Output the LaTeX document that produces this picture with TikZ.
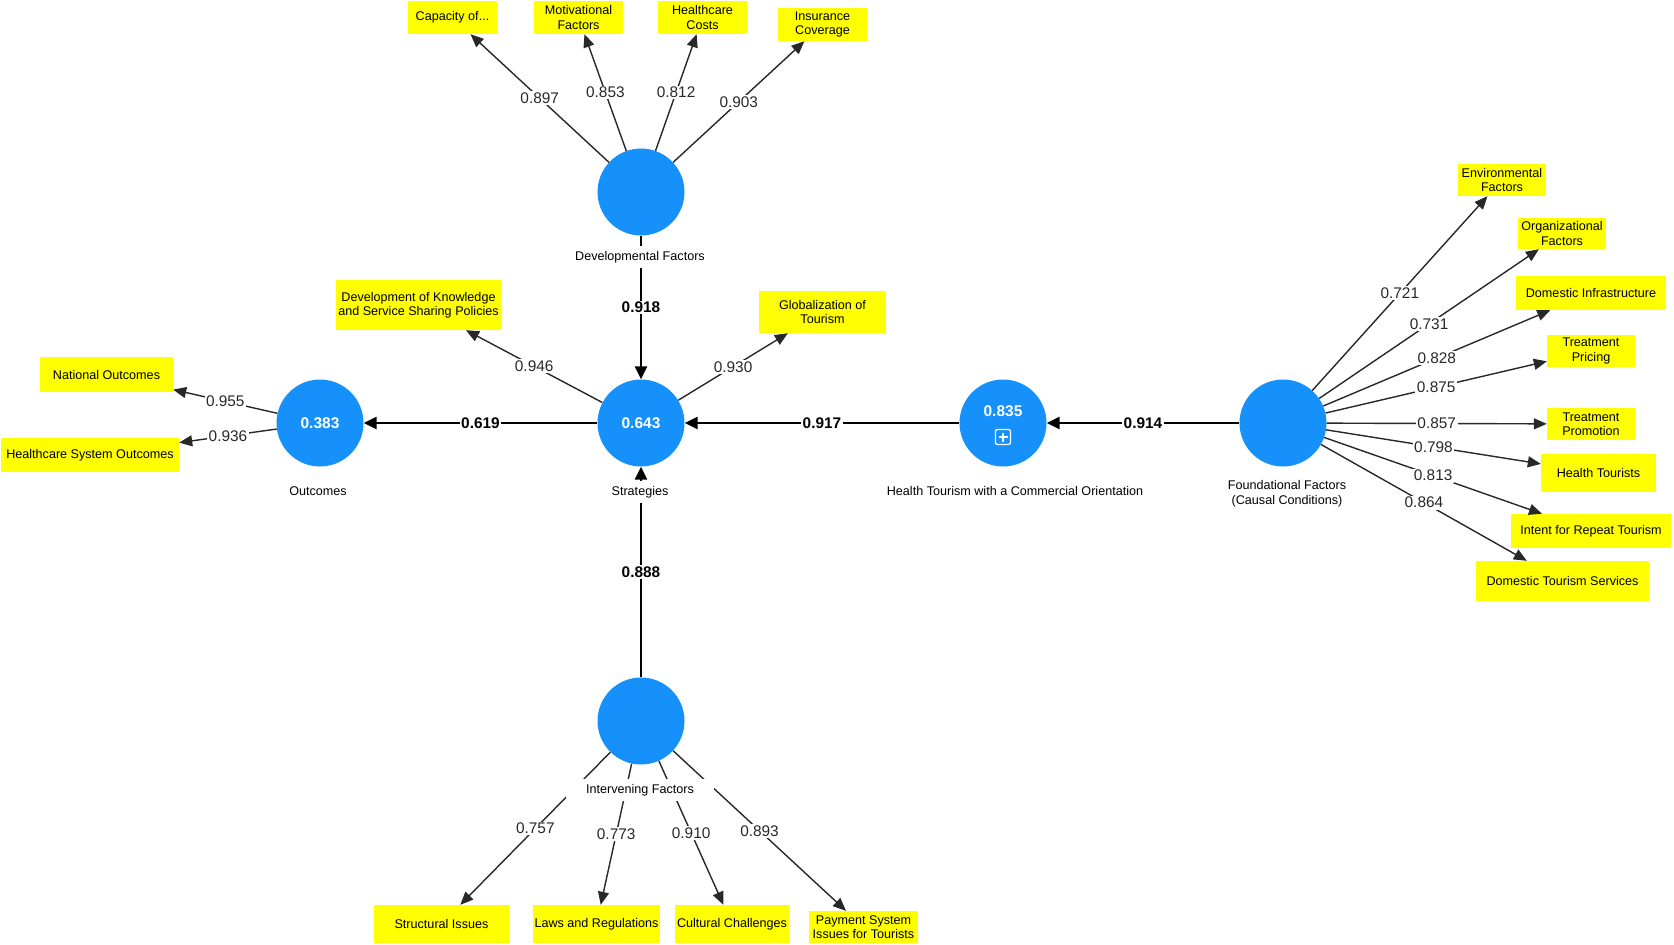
\documentclass[tikz,border=0pt]{standalone}
\usepackage{fontspec}
\setmainfont{Liberation Sans}
\usetikzlibrary{arrows.meta}

\definecolor{plsblue}{RGB}{22,144,250}
\definecolor{plsyellow}{RGB}{255,255,0}
\definecolor{edgegray}{RGB}{40,40,40}

\tikzstyle{construct}=[circle,fill=plsblue,minimum size=87pt,inner sep=0pt,text=white,font=\fontsize{15.5}{18}\selectfont\bfseries]
\tikzstyle{indicator}=[fill=plsyellow,inner sep=1pt,align=center,font=\fontsize{12.6}{14.5}\selectfont]
\tikzstyle{latent label}=[fill=white,inner xsep=20pt,inner ysep=5pt,align=center,font=\fontsize{12.6}{15}\selectfont]
\tikzstyle{loading edge}=[draw,line width=1.4pt,edgegray,-{Triangle[length=13pt,width=11pt]}]
\tikzstyle{path edge}=[draw,line width=2.6pt,black,-{Triangle[length=13pt,width=12pt]}]
\tikzstyle{loading}=[fill=white,inner sep=1.5pt,text=edgegray,font=\fontsize{15.4}{17}\selectfont]
\tikzstyle{coefficient}=[fill=white,inner sep=1.5pt,text=black,font=\fontsize{15.4}{17}\selectfont\bfseries]

\begin{document}
\begin{tikzpicture}[x=1pt,y=-1pt]
	\useasboundingbox (0,0) rectangle (1674,945);
			% latent variables
			\node[construct] (dev) at (641,192) {};
			\node[construct] (strat) at (641,423) {0.643};
			\node[construct] (outc) at (320,423) {0.383};
			\node[construct] (htco) at (1003,423) {};
			\node[construct] (found) at (1283,423) {};
			\node[construct] (interv) at (641,721) {};
			\node[text=white,font=\fontsize{15.5}{18}\selectfont\bfseries] (htcoval) at (1003,411) {0.835};
			\node[draw=white,line width=1.3pt,rounded corners=2pt,minimum size=15pt,inner sep=0pt] (htcoicon) at (1003,437) {};
			\draw[white,line width=1.3pt] (htcoicon.center) +(-4.5,0) -- +(4.5,0) +(0,-4.5) -- +(0,4.5);
			% indicators
			\node[indicator,minimum width=89pt,minimum height=33pt] (cap) at (452.5,17.5) {Capacity of...};
			\node[indicator,minimum width=89pt,minimum height=33pt] (mot) at (578.5,17.5) {Motivational\\Factors};
			\node[indicator,minimum width=89pt,minimum height=33pt] (hcc) at (702.5,17.5) {Healthcare\\Costs};
			\node[indicator,minimum width=89pt,minimum height=33pt] (ins) at (822.5,24.5) {Insurance\\Coverage};
			\node[indicator,minimum width=165pt,minimum height=50pt] (dks) at (418.5,305) {Development of Knowledge\\and Service Sharing Policies};
			\node[indicator,minimum width=127pt,minimum height=42pt] (glo) at (822.5,312) {Globalization of\\Tourism};
			\node[indicator,minimum width=133pt,minimum height=35pt] (nat) at (106.5,374.5) {National Outcomes};
			\node[indicator,minimum width=178pt,minimum height=34pt] (hso) at (90,455) {Healthcare System Outcomes};
			\node[indicator,minimum width=88pt,minimum height=32pt] (env) at (1502,180) {Environmental\\Factors};
			\node[indicator,minimum width=88pt,minimum height=31pt] (org) at (1562,233.5) {Organizational\\Factors};
			\node[indicator,minimum width=150pt,minimum height=34pt] (din) at (1591,293) {Domestic Infrastructure};
			\node[indicator,minimum width=88pt,minimum height=32pt] (tpr) at (1591,351) {Treatment\\Pricing};
			\node[indicator,minimum width=88pt,minimum height=32pt] (tpm) at (1591,424) {Treatment\\Promotion};
			\node[indicator,minimum width=115pt,minimum height=38pt] (hto) at (1598.5,473) {Health Tourists};
			\node[indicator,minimum width=160pt,minimum height=34pt] (irt) at (1591,531) {Intent for Repeat Tourism};
			\node[indicator,minimum width=173pt,minimum height=40pt] (dts) at (1562.5,581) {Domestic Tourism Services};
			\node[indicator,minimum width=135pt,minimum height=38pt] (sti) at (441.5,924) {Structural Issues};
			\node[indicator,minimum width=127pt,minimum height=38pt] (law) at (596.5,924) {Laws and Regulations};
			\node[indicator,minimum width=114pt,minimum height=38pt] (cul) at (732,924) {Cultural Challenges};
			\node[indicator,minimum width=109pt,minimum height=32pt] (pay) at (863.5,927) {Payment System\\Issues for Tourists};
			% outer loadings
			\foreach \source/ \dest/ \val in {dev/cap/0.897, dev/mot/0.853, dev/hcc/0.812, dev/ins/0.903,
				strat/dks/0.946, strat/glo/0.930, outc/nat/0.955, outc/hso/0.936,
				found/env/0.721, found/org/0.731, found/din/0.828, found/tpr/0.875,
				found/tpm/0.857, found/hto/0.798, found/irt/0.813, found/dts/0.864,
				interv/sti/0.757, interv/law/0.773, interv/cul/0.910, interv/pay/0.893}
			\path[loading edge] (\source) -- node[loading] {\val} (\dest);
			% structural paths
			\foreach \source/ \dest/ \val in {dev/strat/0.918, strat/outc/0.619, htco/strat/0.917,
				found/htco/0.914, interv/strat/0.888}
			\path[path edge] (\source) -- node[coefficient] {\val} (\dest);
			% names of the latent variables
			\node[latent label] (devname) at (640,257) {Developmental Factors};
			\node[latent label] (stratname) at (640,492) {Strategies};
			\node[latent label] (outcname) at (318,491) {Outcomes};
			\node[latent label] (htconame) at (1015,491) {Health Tourism with a Commercial Orientation};
			\node[latent label] (foundname) at (1287,493.5) {Foundational Factors\\(Causal Conditions)};
			\node[latent label] (intervname) at (640,790) {Intervening Factors};
\end{tikzpicture}
\end{document}
